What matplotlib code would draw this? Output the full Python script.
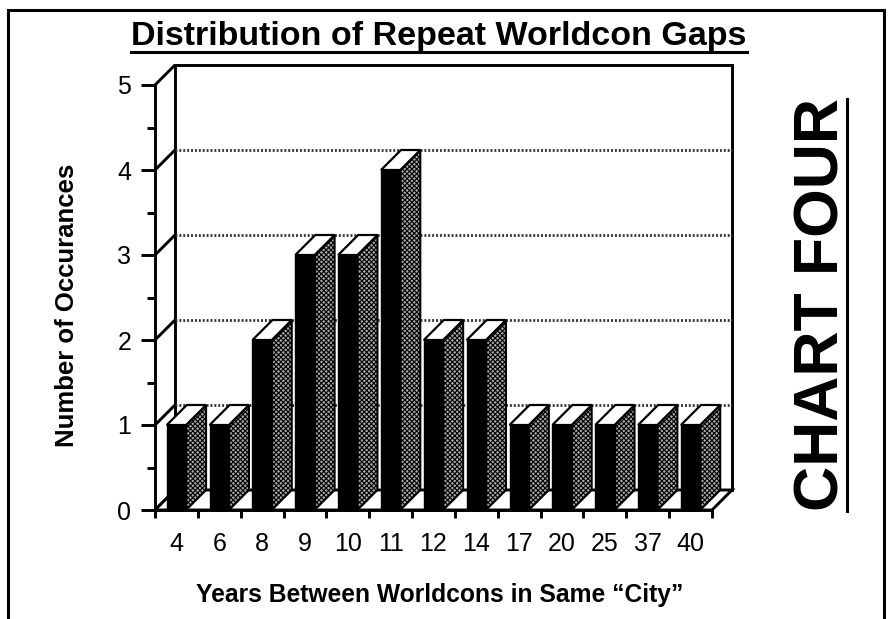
import matplotlib
matplotlib.use("Agg")
import matplotlib.pyplot as plt
from matplotlib.patches import Polygon, Rectangle
from matplotlib.lines import Line2D
import numpy as np

# data
gaps = ["4", "6", "8", "9", "10", "11", "12", "14", "17", "20", "25", "37", "40"]
counts = [1, 1, 2, 3, 3, 4, 2, 2, 1, 1, 1, 1, 1]

plt.rcParams['font.family'] = ['Liberation Sans', 'DejaVu Sans']
plt.rcParams['hatch.linewidth'] = 0.8

W, H = 890, 619
fig = plt.figure(figsize=(W / 100, H / 100), dpi=100)
ax = fig.add_axes([155 / W, (H - 510) / H, 557 / W, 425 / H])

n = len(gaps)
ymax = 5
ax.set_xlim(0, n)
ax.set_ylim(0, ymax)

# fake 3d depth, in data units
dx = 20 / 42.85
dy = 20 / 85.0
bw = 0.45
lw = 2.1

# back wall + grid
ax.add_patch(Rectangle((dx, dy), n, ymax, fc="white", ec="black", lw=lw,
                       clip_on=False, zorder=1))
for k in range(1, ymax):
    ax.plot([dx, n + dx], [k + dy, k + dy], color="#333333", lw=2,
            ls=(0, (0.7, 0.7)), clip_on=False, zorder=2)
# left wall
for k in range(0, ymax + 1):
    ax.plot([0, dx], [k, k + dy], color="black", lw=lw, clip_on=False, zorder=2,
            solid_capstyle="butt")
# floor
ax.add_patch(Polygon([(0, 0), (n, 0), (n + dx, dy), (dx, dy)], closed=True,
                     fc="white", ec="black", lw=lw, clip_on=False, zorder=2))

# bars
for i, v in enumerate(counts):
    x0 = i + 0.5 - bw / 2
    x1 = i + 0.5 + bw / 2
    ax.add_patch(Polygon([(x1, 0), (x1 + dx, dy), (x1 + dx, v + dy), (x1, v)],
                         closed=True, fc="#a8a8a8", ec="black", hatch="xxxxxxx",
                         lw=1.5, clip_on=False, zorder=3))
    ax.add_patch(Polygon([(x0, v), (x1, v), (x1 + dx, v + dy), (x0 + dx, v + dy)],
                         closed=True, fc="white", ec="black", lw=1.6,
                         clip_on=False, zorder=3))
    ax.add_patch(Rectangle((x0, 0), bw, v, fc="black", ec="black", lw=1,
                           clip_on=False, zorder=4))

for s in ["top", "right"]:
    ax.spines[s].set_visible(False)
for s in ["left", "bottom"]:
    ax.spines[s].set_linewidth(lw)
    ax.spines[s].set_zorder(5)

ax.set_yticks(range(0, ymax + 1))
ax.set_yticks(np.arange(0.5, ymax, 1), minor=True)
ax.tick_params(axis="y", which="major", length=10, width=lw, labelsize=18, pad=7)
ax.tick_params(axis="y", which="minor", length=6, width=lw)

ax.set_xticks(range(0, n + 1))
ax.set_xticklabels([])
ax.set_xticks(np.arange(0.5, n, 1), minor=True)
ax.set_xticklabels(gaps, minor=True)
ax.tick_params(axis="x", which="major", length=6, width=lw)
ax.tick_params(axis="x", which="minor", length=0, labelsize=18, pad=16)

ax.set_ylabel("Number of Occurances", fontsize=18.5, fontweight="bold", va="center")
ax.yaxis.set_label_coords((67 - 155) / 557, (510 - 305) / 425)
ax.set_xlabel("Years Between Worldcons in Same \u201cCity\u201d", fontsize=17.7,
              fontweight="bold", va="center")
ax.xaxis.set_label_coords((440 - 155) / 557, (510 - 595) / 425)

title = fig.text(439 / W, 1 - 36 / H, "Distribution of Repeat Worldcon Gaps",
                 fontsize=24.5, fontweight="bold", ha="center", va="center")
side = fig.text(822 / W, 1 - 305 / H, "CHART FOUR", fontsize=45,
                fontweight="bold", rotation=90, ha="center", va="center")

fig.canvas.draw()
r = fig.canvas.get_renderer()
bb = title.get_window_extent(r)
fig.add_artist(Line2D([bb.x0 / W, bb.x1 / W], [1 - 52 / H, 1 - 52 / H],
                      color="black", lw=2.2))
bb2 = side.get_window_extent(r)
fig.add_artist(Line2D([847 / W, 847 / W], [bb2.y0 / H, bb2.y1 / H],
                      color="black", lw=2.2))

# outer frame
fig.add_artist(Rectangle((8 / W, -0.1), (884 - 8) / W, 1 - 10 / H + 0.1,
                         transform=fig.transFigure, fill=False, ec="black",
                         lw=2.2))

fig.savefig("out.png", dpi=100)
